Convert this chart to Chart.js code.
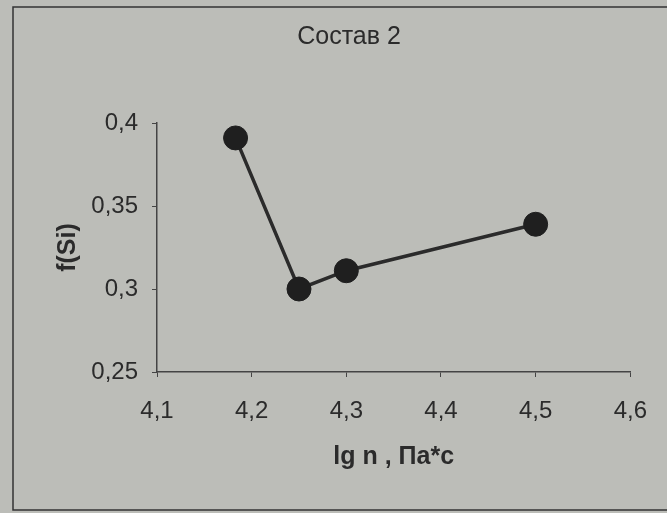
<!DOCTYPE html>
<html>
<head>
<meta charset="utf-8">
<script src="https://cdn.jsdelivr.net/npm/chart.js@4"></script>
<style>
  body { margin: 0; background: #bcbdb8; }
  #chart { display: block; }
</style>
</head>
<body>
<canvas id="chart" width="667" height="513"></canvas>
<script>
// Data
const lgN = [4.183, 4.25, 4.3, 4.5];
const fSi = [0.391, 0.300, 0.311, 0.339];

const xTicks = [4.1, 4.2, 4.3, 4.4, 4.5, 4.6];
const yTicks = [0.25, 0.3, 0.35, 0.4];

const ink = '#2b2b2b';
const paper = '#bcbdb8';
const font = 'Liberation Sans, Arial';

// comma as decimal separator
function fmt(v) {
    return String(Number(v.toFixed(2))).replace('.', ',');
}

// paper background, outer frame, title nudged right like the original
const framePlugin = {
    id: 'frame',
    afterLayout(chart) {
        chart.titleBlock.left += 23;
        chart.titleBlock.right += 23;
    },
    beforeDraw(chart) {
        const ctx = chart.ctx;
        ctx.save();
        ctx.fillStyle = paper;
        ctx.fillRect(0, 0, chart.width, chart.height);
        ctx.strokeStyle = '#333';
        ctx.lineWidth = 1.5;
        ctx.strokeRect(13, 7, 700, 503);
        ctx.restore();
    }
};

new Chart(document.getElementById('chart'), {
    type: 'scatter',
    data: {
        datasets: [{
            data: lgN.map((x, i) => ({ x: x, y: fSi[i] })),
            showLine: true,
            borderColor: ink,
            borderWidth: 3.5,
            backgroundColor: '#1f1f1f',
            pointRadius: 12,
            pointHoverRadius: 12,
            pointBorderColor: '#1f1f1f',
            pointBorderWidth: 1
        }]
    },
    options: {
        responsive: false,
        animation: false,
        layout: { padding: { left: 20, right: 35, top: 0, bottom: 0 } },
        plugins: {
            legend: { display: false },
            tooltip: { enabled: false },
            title: {
                display: true,
                text: 'Состав 2',
                color: ink,
                font: { family: font, size: 25, weight: 'normal' },
                padding: { top: 22, bottom: 71 }
            }
        },
        scales: {
            x: {
                type: 'linear',
                min: xTicks[0],
                max: xTicks[xTicks.length - 1],
                afterBuildTicks: scale => { scale.ticks = xTicks.map(v => ({ value: v })); },
                afterFit: scale => { scale.height = 141; },
                ticks: {
                    color: ink,
                    padding: 20,
                    font: { family: font, size: 24 },
                    callback: v => fmt(v)
                },
                grid: { drawOnChartArea: false, drawTicks: true, tickLength: 5, color: '#444' },
                border: { display: true, color: '#444', width: 1.5 },
                title: {
                    display: true,
                    text: 'lg n , Па*с',
                    color: ink,
                    font: { family: font, size: 25, weight: 'bold' },
                    padding: { top: 0, bottom: 41 }
                }
            },
            y: {
                type: 'linear',
                min: yTicks[0],
                max: yTicks[yTicks.length - 1],
                afterBuildTicks: scale => { scale.ticks = yTicks.map(v => ({ value: v })); },
                afterFit: scale => { scale.width = 137; },
                ticks: {
                    color: ink,
                    padding: 14,
                    font: { family: font, size: 24 },
                    callback: v => fmt(v)
                },
                grid: { drawOnChartArea: false, drawTicks: true, tickLength: 5, color: '#444' },
                border: { display: true, color: '#444', width: 1.5 },
                title: {
                    display: true,
                    text: 'f(Si)',
                    color: ink,
                    font: { family: font, size: 25, weight: 'bold' },
                    padding: { top: 33, bottom: 0 }
                }
            }
        }
    },
    plugins: [framePlugin]
});
</script>
</body>
</html>
